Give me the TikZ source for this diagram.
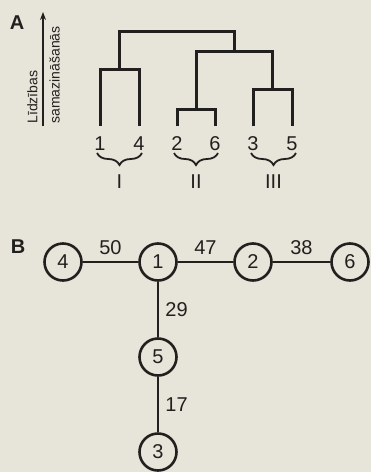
\documentclass[tikz,border=0pt]{standalone}
\usepackage{fontspec}
\setmainfont{Liberation Sans}
\usepackage{tikz}
\usetikzlibrary{arrows.meta,decorations.pathreplacing}
\definecolor{ink}{RGB}{34,32,30}
\definecolor{paper}{RGB}{231,228,217}

\begin{document}
\begin{tikzpicture}[x=0.5pt,y=-0.5pt,>=Stealth,color=ink,
 vert/.style={circle,draw,line width=1.3pt,minimum size=18.5pt,inner sep=0pt},
 tree/.style={line width=1.5pt},
 edge/.style={line width=0.8pt},
 brc/.style={decorate,decoration={brace,mirror,amplitude=6pt},line width=0.9pt}]
\fill[paper](0,0)rectangle(371,472);
\useasboundingbox(0,0)rectangle(371,472);
\node[font=\bfseries](labA) at (17,23){A};
\node[font=\bfseries](labB) at (18,247){B};
\draw[-{Stealth[length=4pt,width=3pt]},line width=0.8pt](43,126)--(43,12);
\node[rotate=90,anchor=south west,font=\fontsize{7}{8}\selectfont,inner sep=1pt](lidz) at (40,126){Līdzības};
\node[rotate=90,anchor=north west,font=\fontsize{7}{8}\selectfont,inner sep=1pt](sam) at (47,126){samazināšanās};
\draw[tree](100,126)|-(139,69)--(139,126)
(177,126)|-(215,109)--(215,126)
(253,126)|-(292,89)--(292,126)
(196,109)|-(272.5,51)--(272.5,89)
(119.5,69)|-(234.5,31)--(234.5,51);
\node(n1) at (100,144){1};
\node(n4) at (139,144){4};
\node(n2) at (177,144){2};
\node(n6) at (215,144){6};
\node(n3) at (253,144){3};
\node(n5) at (292,144){5};
\draw[brc](97,153)--(142,153);
\draw[brc](174,153)--(218,153);
\draw[brc](251,153)--(296,153);
\node(gI) at (119.5,182){I};
\node(gII) at (196,182){II};
\node(gIII) at (273.5,182){III};
\node[vert](v4) at (63,262){4};
\node[vert](v1) at (158,262){1};
\node[vert](v2) at (253,262){2};
\node[vert](v6) at (350,262){6};
\node[vert](v5) at (158,357){5};
\node[vert](v3) at (158,452){3};
\draw[edge](v4)--node[above]{50}(v1);
\draw[edge](v1)--node[above]{47}(v2);
\draw[edge](v2)--node[above]{38}(v6);
\draw[edge](v1)--node[right]{29}(v5);
\draw[edge](v5)--node[right]{17}(v3);
\end{tikzpicture}
\end{document}
